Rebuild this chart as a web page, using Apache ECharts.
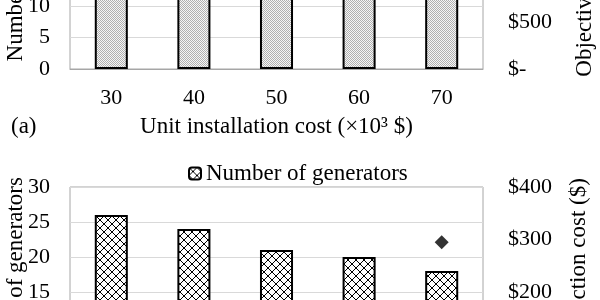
<!DOCTYPE html>
<html>
<head>
<meta charset="utf-8">
<script src="https://cdn.jsdelivr.net/npm/echarts@6/dist/echarts.min.js"></script>
<style>
  html, body { margin: 0; padding: 0; background: #fff; overflow: hidden; }
  #wrap { position: relative; width: 600px; height: 300px; overflow: hidden; }
  #box { position: absolute; left: 0; top: -160px; width: 600px; height: 600px; }
</style>
</head>
<body>
<div id="wrap"><div id="box"></div></div>
<script>
// categories: unit installation cost (x10^3 $)
const categories = ['30', '40', '50', '60', '70']

// panel (a): number of generators + objective cost (mostly above the crop)
const genA = [22, 20, 19, 18, 17]
const costA = [1450, 1520, 1600, 1680, 1750]

// panel (b): number of generators + production cost
const genB = [26, 24, 21, 20, 18]
const costB = [120, 135, 150, 170, 295]

const leftTicks = { min: 0, max: 30, interval: 5 }
const rightTicksA = { min: 0, max: 2000, interval: 500 }
const rightTicksB = { min: 0, max: 400, interval: 100 }

const FONT = 'Liberation Serif'

function makePattern(kind) {
    const c = document.createElement('canvas')
    if (kind === 'dots') {
        c.width = 2; c.height = 2
        const g = c.getContext('2d')
        g.fillStyle = '#f6f6f6'; g.fillRect(0, 0, 2, 2)
        g.fillStyle = '#b0b0b0'; g.fillRect(0, 0, 1, 1); g.fillRect(1, 1, 1, 1)
    } else {
        c.width = 8; c.height = 8
        const g = c.getContext('2d')
        g.fillStyle = '#fff'; g.fillRect(0, 0, 8, 8)
        g.strokeStyle = '#000'; g.lineWidth = 1
        g.beginPath()
        g.moveTo(0, 0); g.lineTo(8, 8)
        g.moveTo(8, 0); g.lineTo(0, 8)
        g.stroke()
    }
    return { image: c, repeat: 'repeat' }
}

const moneyFmt = v => v === 0 ? '$-' : '$' + v.toLocaleString('en-US')
const txt = { fontFamily: FONT, fontSize: 22, color: '#000' }
const big = { fontFamily: FONT, fontSize: 23, color: '#000' }

function xAx(gridIndex, name) {
    return {
        type: 'category', gridIndex, data: categories,
        name, nameLocation: 'middle', nameGap: 46, nameTextStyle: big,
        axisTick: { show: false },
        axisLine: { lineStyle: { color: '#a6a6a6', width: 1 } },
        axisLabel: Object.assign({ margin: 18 }, txt)
    }
}
function leftAx(gridIndex, name) {
    return Object.assign({
        type: 'value', gridIndex, name, nameLocation: 'middle', nameRotate: 90, nameGap: 43,
        nameMoveOverlap: false,
        nameTextStyle: Object.assign({ padding: [0, 0, 0, 28] }, big),
        axisLabel: Object.assign({ margin: 20 }, txt),
        axisLine: { show: false }, axisTick: { show: false },
        splitLine: { lineStyle: { color: '#d9d9d9', width: 1 } }
    }, leftTicks)
}
function rightAx(gridIndex, name, ticks, gap) {
    return Object.assign({
        type: 'value', gridIndex, position: 'right', name, nameLocation: 'middle', nameRotate: 90, nameGap: gap,
        nameMoveOverlap: false,
        nameTextStyle: big,
        axisLabel: Object.assign({ margin: 25, formatter: moneyFmt }, txt),
        axisLine: { show: false }, axisTick: { show: false },
        splitLine: { show: false }
    }, ticks)
}

const barStyle = pat => ({ color: makePattern(pat), borderColor: '#000', borderWidth: 2 })

const option = {
    animation: false,
    backgroundColor: '#fff',
    grid: [
        { left: 70, width: 413, top: 40, height: 189, show: true, borderColor: '#a6a6a6', borderWidth: 1, outerBoundsMode: 'none', containLabel: false },
        { left: 70, width: 413, top: 347, height: 210, show: true, borderColor: '#a6a6a6', borderWidth: 1, outerBoundsMode: 'none', containLabel: false }
    ],
    legend: {
        data: ['Number of generators'],
        left: 183, top: 317,
        itemWidth: 12, itemHeight: 12, itemGap: 20,
        textStyle: big
    },
    xAxis: [xAx(0, 'Unit installation cost (×10³ $)'), xAx(1, '')],
    yAxis: [
        leftAx(0, 'Number of generators'),
        rightAx(0, 'Objective function ($)', rightTicksA, 90),
        leftAx(1, 'Number of generators'),
        rightAx(1, 'Total production cost ($)', rightTicksB, 84)
    ],
    graphic: [
        { type: 'text', left: 11, top: 275, style: { text: '(a)', font: '23px "Liberation Serif"', fill: '#000' } }
    ],
    series: [
        { name: 'Number of generators (a)', type: 'bar', xAxisIndex: 0, yAxisIndex: 0, data: genA, barWidth: '40%', itemStyle: barStyle('dots') },
        { name: 'Objective cost', type: 'scatter', xAxisIndex: 0, yAxisIndex: 1, data: costA, symbol: 'diamond', symbolSize: 14, itemStyle: { color: '#000' } },
        { name: 'Number of generators', type: 'bar', xAxisIndex: 1, yAxisIndex: 2, data: genB, barWidth: '40%', itemStyle: barStyle('hatch') },
        { name: 'Production cost', type: 'scatter', xAxisIndex: 1, yAxisIndex: 3, data: costB, symbol: 'diamond', symbolSize: 14, itemStyle: { color: '#000' } }
    ]
}

const myChart = echarts.init(document.getElementById('box'))
myChart.setOption(option)
</script>
</body>
</html>
